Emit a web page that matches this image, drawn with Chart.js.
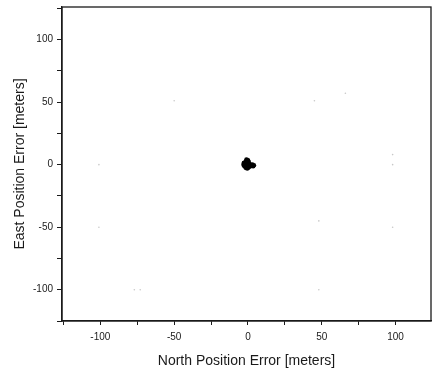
<!DOCTYPE html>
<html>
<head>
<meta charset="utf-8">
<script src="https://cdn.jsdelivr.net/npm/chart.js@4"></script>
<style>
  html, body { margin: 0; padding: 0; background: #fff; overflow: hidden; }
  #wrap { width: 432px; height: 370px; overflow: hidden; }
</style>
</head>
<body>
<div id="wrap"><canvas id="errChart" width="435" height="370"></canvas></div>
<script>
// ── Data (meters) ────────────────────────────────────────
var northErr = [-3, -2.5, -2, -1.5, -1, -0.5, 0, 0.5, 1, -2.5, -1.5, -0.5, 0.5, -2, -1, 0, -2.8, 1.2, -1.5, -0.5, 0.5, 2, 3, 4, 2.5, 3.5, -1, 0];
var eastErr  = [0, 1.5, -1.5, 2.5, -2.5, 3, -2.5, 2, -1.5, -1, 1, 0, -0.5, 0.5, 1.2, 1, 1.2, 0.5, -2.5, -3, -2, -0.5, 0, -0.5, -1, -1.2, 4, 3.5];
// faint scanner specks around the frame
var speckN = [-101, -101, -77, -73, -50, 45, 66, 98, 98, 98, 48, 48];
var speckE = [0, -50, -100, -100, 51, 51, 57, 8, 0, -50, -45, -100];

var xTicks = [-100, -50, 0, 50, 100];
var yTicks = [-100, -50, 0, 50, 100];
var tickSteps = [-125, -100, -75, -50, -25, 0, 25, 50, 75, 100, 125];
var xMin = -126, xMax = 124;
var yMin = -125, yMax = 126;

function toPts(xs, ys) {
  return xs.map(function(x, i) { return { x: x, y: ys[i] }; });
}

var FONT = "'Liberation Sans', Arial, sans-serif";
var INK  = "#1a1a1a";

// ── Frame: box around plot area ──────────────────────────
var framePlugin = {
  id: "frame",
  afterDraw: function(chart) {
    var a = chart.chartArea, ctx = chart.ctx;
    ctx.save();
    ctx.strokeStyle = INK;
    ctx.lineWidth = 1.3;
    ctx.strokeRect(a.left, a.top, a.right - a.left, a.bottom - a.top);
    ctx.restore();
  }
};

function tickCb(list) {
  return function(v) { return list.indexOf(v) >= 0 ? String(v) : ""; };
}
function fixTicks(s) {
  s.ticks = tickSteps.filter(function(v) { return v >= s.min && v <= s.max; })
    .map(function(v) { return { value: v }; });
}

new Chart(document.getElementById("errChart"), {
  type: "scatter",
  data: {
    datasets: [
      {
        data: toPts(speckN, speckE),
        pointRadius: 0.8,
        pointBackgroundColor: "#c8c8c8",
        pointBorderWidth: 0
      },
      {
        data: toPts(northErr, eastErr),
        pointRadius: 2.3,
        pointBackgroundColor: "#000",
        pointBorderWidth: 0
      }
    ]
  },
  plugins: [framePlugin],
  options: {
    responsive: false,
    animation: false,
    layout: { padding: { top: 7, right: 0, left: 12, bottom: 0 } },
    plugins: { legend: { display: false }, tooltip: { enabled: false } },
    scales: {
      x: {
        type: "linear",
        min: xMin, max: xMax,
        afterBuildTicks: fixTicks,
        afterFit: function(s) { s.height = 49; s.paddingLeft = 0; s.paddingRight = 0; },
        grid: { drawOnChartArea: false, drawTicks: true, tickLength: 4, tickColor: INK, color: INK },
        border: { display: true, color: INK, width: 1.3 },
        ticks: { autoSkip: false, maxRotation: 0, padding: 6, color: INK, font: { family: FONT, size: 10 }, callback: tickCb(xTicks) },
        title: { display: true, text: "North Position Error [meters]", color: INK, font: { family: FONT, size: 14 }, padding: { top: 2, bottom: 0 } }
      },
      y: {
        type: "linear",
        min: yMin, max: yMax,
        afterBuildTicks: fixTicks,
        afterFit: function(s) { s.width = 50; s.paddingTop = 0; s.paddingBottom = 0; },
        grid: { drawOnChartArea: false, drawTicks: true, tickLength: 5, tickColor: INK, color: INK },
        border: { display: true, color: INK, width: 1.3 },
        ticks: { autoSkip: false, padding: 4, color: INK, font: { family: FONT, size: 10 }, callback: tickCb(yTicks) },
        title: { display: true, text: "East Position Error [meters]", color: INK, font: { family: FONT, size: 14 }, padding: { top: 0, bottom: 4 } }
      }
    }
  }
});
</script>
</body>
</html>
